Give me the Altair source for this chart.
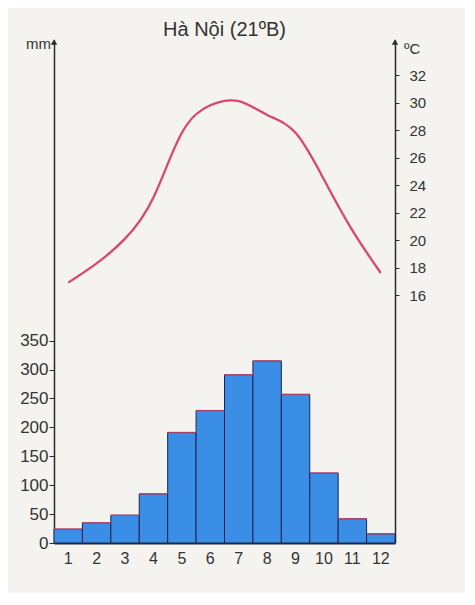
import altair as alt
import pandas as pd

months = list(range(1, 13))
rain_mm = [24, 35, 48, 85, 191, 229, 291, 315, 257, 121, 42, 16]
temp_c = [16.9, 18.3, 20.1, 23.1, 27.8, 29.8, 30.1, 29.1, 27.8, 24.4, 20.7, 17.6]
mm_ticks = [0, 50, 100, 150, 200, 250, 300, 350]
c_ticks = [16, 18, 20, 22, 24, 26, 28, 30, 32]
title_text = "Hà Nội (21ºB)"
unit_left = "mm"
unit_right = "ºC"

df = pd.DataFrame({"month": months, "rain": rain_mm, "temp": temp_c})
one = pd.DataFrame({"k": [0]})

FONT = "Liberation Sans"
W, H = 341, 503
BLUE = "#3b8ee6"
PINK = "#d9476f"
INK = "#2b2b2b"

x_enc = alt.X(
    "month:O",
    scale=alt.Scale(paddingInner=0, paddingOuter=0),
    axis=alt.Axis(title=None, labelAngle=0, labelFontSize=16, ticks=False,
                  domainWidth=2, domainColor=INK, labelPadding=7,
                  labelColor="#333", labelFont=FONT),
)

mm_scale = alt.Scale(domain=[0, 870], nice=False, zero=False)
c_scale = alt.Scale(domain=[-2.04, 34.55], nice=False, zero=False)

bars = alt.Chart(df).mark_bar(color=BLUE, stroke="#1c2550", strokeWidth=1).encode(
    x=x_enc,
    y=alt.Y("rain:Q", scale=mm_scale,
            axis=alt.Axis(title=None, values=mm_ticks, orient="left", grid=False,
                          tickSize=5, tickColor=INK, domainColor=INK, domainWidth=1.5,
                          labelFontSize=17, labelColor="#333", labelPadding=1,
                          labelFont=FONT)),
)
tops = alt.Chart(df).mark_tick(color=PINK, thickness=1.5, size=28.4).encode(
    x=alt.X("month:O"),
    y=alt.Y("rain:Q", scale=mm_scale),
)
mm_label = alt.Chart(one).mark_text(text=unit_left, align="right", baseline="alphabetic",
                                    fontSize=15, font=FONT, color="#333").encode(
    x=alt.value(-3), y=alt.value(9))
arrow_l = alt.Chart(one).mark_point(shape="triangle-up", filled=True, size=40,
                                    color=INK, opacity=1).encode(
    x=alt.value(0), y=alt.value(2))

left = alt.layer(bars, tops, mm_label, arrow_l)

line = alt.Chart(df).mark_line(color=PINK, strokeWidth=2.3, interpolate="natural").encode(
    x=alt.X("month:O"),
    y=alt.Y("temp:Q", scale=c_scale,
            axis=alt.Axis(title=None, values=c_ticks, orient="right", grid=False,
                          tickSize=4, tickColor=INK, domainColor=INK, domainWidth=1.5,
                          labelFontSize=15, labelColor="#333", labelPadding=10,
                          labelFont=FONT)),
)
c_label = alt.Chart(one).mark_text(text=unit_right, align="left", baseline="alphabetic",
                                   fontSize=15, font=FONT, color="#333").encode(
    x=alt.value(W + 9), y=alt.value(14))
arrow_r = alt.Chart(one).mark_point(shape="triangle-up", filled=True, size=40,
                                    color=INK, opacity=1).encode(
    x=alt.value(W), y=alt.value(2))

right = alt.layer(line, c_label, arrow_r)

chart = alt.layer(left, right).resolve_scale(y="independent").properties(
    width=W, height=H,
    title=alt.Title(title_text, fontSize=20, font=FONT, fontWeight="normal",
                    color="#333", anchor="middle", offset=-3),
    autosize=alt.AutoSizeParams(type="none"),
    padding={"left": 46, "top": 32, "right": 70, "bottom": 50},
).configure(background="#f4f3ef").configure_view(stroke=None)

chart.save("out.html", embed_options={"renderer": "svg", "actions": False})
